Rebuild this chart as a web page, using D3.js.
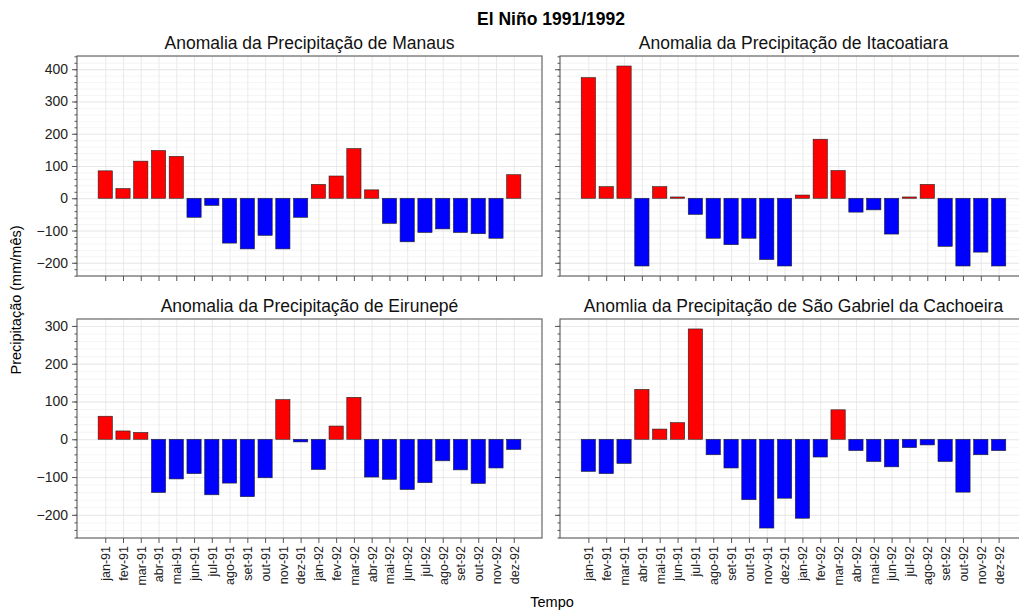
<!DOCTYPE html>
<html>
<head>
<meta charset="utf-8">
<script src="https://cdn.jsdelivr.net/npm/d3@7"></script>
<style>
  body { margin: 0; background: #fff; }
  svg { font-family: "Liberation Sans", Arial, sans-serif; }
  .grid line { stroke: #e4e4e4; stroke-width: 0.8; }
  .grid .minor line, .grid.minor line { stroke: #f2f2f2; }
  .grid path { display: none; }
  .axis path, .axis line { stroke: #555; }
  .axis text { fill: #222; }
</style>
</head>
<body>
<script>
// meses (rótulos do eixo x)
var months = ["jan-91", "fev-91", "mar-91", "abr-91", "mai-91", "jun-91", "jul-91", "ago-91",
              "set-91", "out-91", "nov-91", "dez-91", "jan-92", "fev-92", "mar-92", "abr-92",
              "mai-92", "jun-92", "jul-92", "ago-92", "set-92", "out-92", "nov-92", "dez-92"];

// anomalias (mm/mês)
var manaus = [85, 30, 115, 148, 130, -59, -22, -139, -157, -115, -157, -59,
              43, 69, 154, 26, -78, -135, -106, -95, -106, -110, -124, 73];
var itacoatiara = [374, 36, 410, -210, 36, 4, -50, -124, -144, -124, -190, -210,
                   10, 183, 86, -43, -36, -111, 4, 43, -149, -210, -167, -210];
var eirunepe = [61, 22, 18, -141, -105, -91, -147, -116, -152, -102, 105, -7,
                -80, 35, 111, -100, -106, -133, -115, -57, -81, -117, -76, -27];
var saoGabriel = [-85, -91, -64, 132, 27, 44, 292, -41, -76, -160, -235, -156,
                  -209, -47, 78, -30, -59, -73, -22, -15, -59, -140, -41, -30];

var titles = ["Anomalia da Precipitação de Manaus", "Anomalia da Precipitação de Itacoatiara",
              "Anomalia da Precipitação de Eirunepé", "Anomlia da Precipitação de São Gabriel da Cachoeira"];

var width = 1019, height = 612;

var svg = d3.select("body").append("svg")
    .attr("width", width).attr("height", height);

// painéis: [x0, x1, y0, y1]
var panels = [
  { data: manaus,      title: titles[0], box: [77, 542, 56, 276],  row: 0, left: true,  bottom: false },
  { data: itacoatiara, title: titles[1], box: [560, 1027, 56, 276], row: 0, left: false, bottom: false },
  { data: eirunepe,    title: titles[2], box: [77, 542, 319, 538], row: 1, left: true,  bottom: true },
  { data: saoGabriel,  title: titles[3], box: [560, 1027, 319, 538], row: 1, left: false, bottom: true }
];

// y compartilhado por linha, com margem de 5% (como o matplotlib)
var rows = [manaus.concat(itacoatiara), eirunepe.concat(saoGabriel)].map(function(vals) {
  var lo = Math.min(0, d3.min(vals)), hi = Math.max(0, d3.max(vals));
  var pad = (hi - lo) * 0.05;
  return [lo - pad, hi + pad];
});

var barW = 0.8;
var xPad = (months.length - 1 + barW) * 0.05 + barW / 2;
var noLabel = function() { return ""; };
var fmtY = function(d) { return d < 0 ? "\u2212" + (-d) : String(d); };

panels.forEach(function(p) {
  var b = p.box;
  var dom = rows[p.row];
  var inside = function(d) { return d >= dom[0] && d <= dom[1]; };
  var minorTicks = d3.range(-300, 501, 20).filter(inside);
  var majorTicks = d3.range(-200, 401, 100).filter(inside);

  var x = d3.scaleLinear().domain([-xPad, months.length - 1 + xPad]).range([b[0], b[1]]);
  var y = d3.scaleLinear().domain(dom).range([b[3], b[2]]);

  var g = svg.append("g");

  // grade
  g.append("g").attr("class", "grid minor")
    .attr("transform", "translate(" + b[0] + ",0)")
    .call(d3.axisLeft(y).tickValues(minorTicks).tickSize(-(b[1] - b[0])).tickFormat(noLabel));
  g.append("g").attr("class", "grid")
    .attr("transform", "translate(" + b[0] + ",0)")
    .call(d3.axisLeft(y).tickValues(majorTicks).tickSize(-(b[1] - b[0])).tickFormat(noLabel));
  g.append("g").attr("class", "grid")
    .attr("transform", "translate(0," + b[3] + ")")
    .call(d3.axisBottom(x).tickValues(d3.range(months.length)).tickSize(-(b[3] - b[2])).tickFormat(noLabel));

  // barras
  g.selectAll("rect.bar")
    .data(p.data)
    .enter().append("rect")
    .attr("class", "bar")
    .attr("x", function(d, i) { return x(i - barW / 2); })
    .attr("width", x(barW) - x(0))
    .attr("y", function(d) { return y(Math.max(0, d)); })
    .attr("height", function(d) { return Math.abs(y(d) - y(0)); })
    .attr("fill", function(d) { return d >= 0 ? "#ff0000" : "#0000ff"; })
    .attr("stroke", "#222")
    .attr("stroke-width", 0.6);

  // moldura
  g.append("rect")
    .attr("x", b[0]).attr("y", b[2])
    .attr("width", b[1] - b[0]).attr("height", b[3] - b[2])
    .attr("fill", "none").attr("stroke", "#666").attr("stroke-width", 1.2);

  // eixo y (menores + maiores)
  g.append("g").attr("class", "axis")
    .attr("transform", "translate(" + b[0] + ",0)")
    .call(d3.axisLeft(y).tickValues(minorTicks).tickSize(2.5).tickFormat(noLabel))
    .select(".domain").remove();
  var yAxis = g.append("g").attr("class", "axis")
    .attr("transform", "translate(" + b[0] + ",0)")
    .call(d3.axisLeft(y).tickValues(majorTicks).tickSize(5).tickPadding(4)
      .tickFormat(p.left ? fmtY : noLabel));
  yAxis.select(".domain").remove();
  yAxis.selectAll("text").style("font-size", "14px");

  // eixo x
  var xAxis = g.append("g").attr("class", "axis")
    .attr("transform", "translate(0," + b[3] + ")")
    .call(d3.axisBottom(x).tickValues(d3.range(months.length)).tickSize(5)
      .tickFormat(p.bottom ? function(i) { return months[i]; } : noLabel));
  xAxis.select(".domain").remove();
  xAxis.selectAll("text")
    .style("font-size", "12.5px")
    .attr("text-anchor", "end")
    .attr("transform", "rotate(-90)")
    .attr("x", -8).attr("y", 0).attr("dy", "0.35em");

  // título do painel
  svg.append("text")
    .attr("x", (b[0] + b[1]) / 2).attr("y", b[2] - 7)
    .attr("text-anchor", "middle")
    .style("font-size", "17.5px").style("fill", "#111")
    .text(p.title);
});

svg.append("text")
  .attr("x", 551).attr("y", 25)
  .attr("text-anchor", "middle")
  .style("font-size", "17.5px").style("font-weight", "bold")
  .text("El Niño 1991/1992");

svg.append("text")
  .attr("transform", "translate(21,300) rotate(-90)")
  .attr("text-anchor", "middle")
  .style("font-size", "14.5px")
  .text("Precipitação (mm/mês)");

svg.append("text")
  .attr("x", 552).attr("y", 607)
  .attr("text-anchor", "middle")
  .style("font-size", "14.5px")
  .text("Tempo");
</script>
</body>
</html>
